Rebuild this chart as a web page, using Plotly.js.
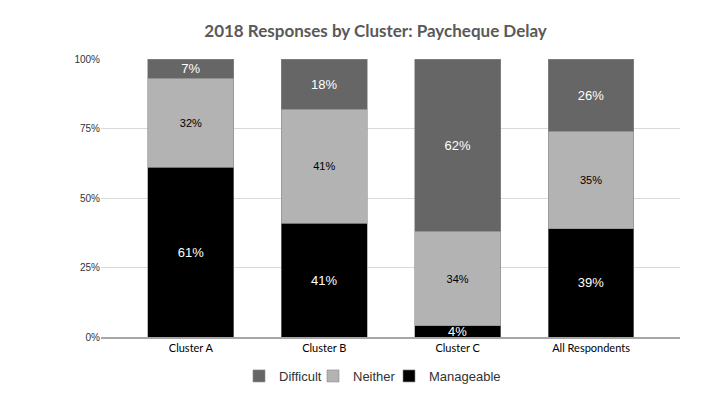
<!DOCTYPE html>
<html><head><meta charset="utf-8">
<script src="https://cdn.plot.ly/plotly-3.0.1.min.js"></script>
<style>html,body{margin:0;padding:0;background:#fff;}#chart{width:725px;height:400px;}</style>
</head><body><div id="chart"></div>
<script>
const categories = ["Cluster A", "Cluster B", "Cluster C", "All Respondents"];
const manageable = [61, 41, 4, 39];
const neither = [32, 41, 34, 35];
const difficult = [7, 18, 62, 26];
const yTicks = [0, 25, 50, 75, 100];
const yTickLabels = ["0%", "25%", "50%", "75%", "100%"];

function mk(name, vals, color, txtColor, size, leg) {
  return {
    type: 'bar', name: name, x: categories, y: vals, legend: leg,
    marker: {color: color, line: {color: '#8a8a8a', width: 0.6}},
    text: vals.map(v => v + '%'), textposition: 'inside', insidetextanchor: 'middle',
    textangle: 0, constraintext: 'none',
    textfont: {color: txtColor, size: size, family: 'Liberation Sans, Arial, sans-serif'},
    hoverinfo: 'none'
  };
}
const data = [
  mk('Manageable', manageable, '#000000', '#ffffff', 13, 'legend3'),
  mk('Neither', neither, '#b3b3b3', '#000000', 11, 'legend2'),
  mk('Difficult', difficult, '#666666', '#ffffff', 13, 'legend')
];
function leg(xpx) {
  return {orientation: 'h', xref: 'container', yref: 'container', x: xpx / 725, xanchor: 'left',
    y: 1 - 376 / 400, yanchor: 'middle', bgcolor: 'rgba(0,0,0,0)',
    font: {family: 'Liberation Sans, Arial, sans-serif', size: 13, color: '#333'}, itemwidth: 30};
}
const layout = {
  width: 725, height: 400,
  margin: {l: 101, r: 45, t: 59, b: 63, autoexpand: false},
  paper_bgcolor: '#ffffff', plot_bgcolor: '#ffffff',
  barmode: 'stack', bargap: 0.356,
  title: {text: '<b>2018 Responses by Cluster: Paycheque Delay</b>', x: 0.518, xanchor: 'center', y: 0.922, yanchor: 'middle',
    font: {family: 'Lato, Carlito, sans-serif', size: 17, color: '#595959'}},
  xaxis: {range: [-0.674, 3.667], showgrid: false, showline: true, linecolor: '#a6a6a6', linewidth: 1.5, ticks: '',
    tickfont: {family: 'Lato, sans-serif', size: 11, color: '#000'}, fixedrange: true},
  yaxis: {range: [0, 100], tickvals: yTicks, ticktext: yTickLabels, showgrid: true, gridcolor: '#d9d9d9', gridwidth: 1,
    zeroline: false, ticks: '', tickfont: {family: 'Liberation Sans, Arial, sans-serif', size: 10, color: '#333'}, fixedrange: true},
  showlegend: true,
  legend: leg(239),
  legend2: leg(313),
  legend3: leg(389),
  font: {family: 'Liberation Sans, Arial, sans-serif'}
};
Plotly.newPlot('chart', data, layout, {displayModeBar: false, staticPlot: true});
</script></body></html>
